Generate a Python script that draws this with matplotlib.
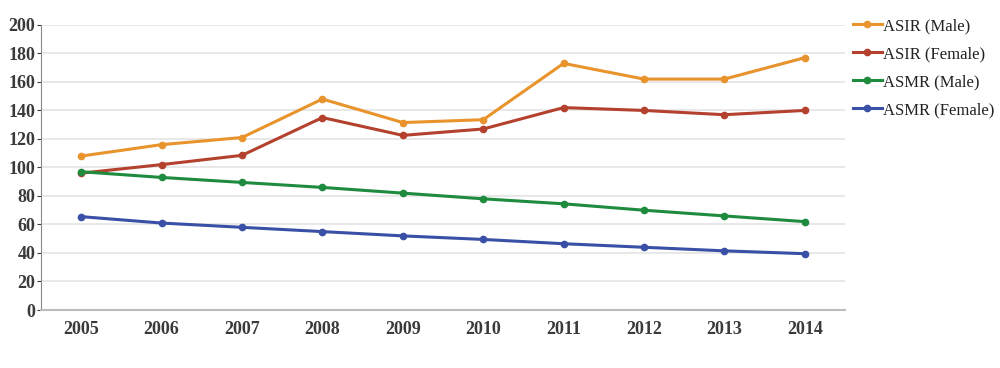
import numpy as np
from matplotlib import pyplot as plt

years = ['2005', '2006', '2007', '2008', '2009', '2010', '2011', '2012', '2013', '2014']
asir_male = [108, 116, 121, 148, 131.5, 133.5, 173, 162, 162, 177]
asir_female = [96, 102, 108.5, 135, 122.5, 127, 142, 140, 137, 140]
asmr_male = [97, 93, 89.5, 86, 82, 78, 74.5, 70, 66, 62]
asmr_female = [65.5, 61, 58, 55, 52, 49.5, 46.5, 44, 41.5, 39.5]

plt.rcParams['font.family'] = ['Liberation Serif', 'DejaVu Serif']

fig = plt.figure(figsize=(10, 3.68), dpi=100)
ax = fig.add_axes([0.041, 0.1576, 0.804, 0.7747])

x = np.arange(len(years))
series = [
    (asir_male, 'ASIR (Male)', '#E8932C'),
    (asir_female, 'ASIR (Female)', '#B4412D'),
    (asmr_male, 'ASMR (Male)', '#1E8B3E'),
    (asmr_female, 'ASMR (Female)', '#3A50A6'),
]
for vals, label, color in series:
    ax.plot(x, vals, color=color, lw=2.2, marker='o', ms=4.5, label=label, zorder=3)

ax.set_xlim(-0.5, 9.5)
ax.set_ylim(0, 200)
ax.set_yticks(range(0, 201, 20))
ax.set_xticks(x)
ax.set_xticklabels(years)
ax.yaxis.grid(True, color='#e4e4e4', lw=1.2)
ax.set_axisbelow(True)
for s in ['top', 'right']:
    ax.spines[s].set_visible(False)
ax.spines['left'].set_color('#888888')
ax.spines['bottom'].set_color('#bbbbbb')
ax.spines['bottom'].set_linewidth(1.5)
ax.tick_params(axis='x', length=0, pad=8, labelsize=13, colors='#3a3a3a')
ax.tick_params(axis='y', length=3, pad=1, labelsize=13, colors='#3a3a3a')
for t in ax.get_xticklabels() + ax.get_yticklabels():
    t.set_fontweight('bold')

leg = ax.legend(loc='upper left', bbox_to_anchor=(0.995, 1.065), frameon=False,
                borderaxespad=0.3, handlelength=1.75, handletextpad=0.08,
                labelspacing=0.72, prop={'size': 12})
for t in leg.get_texts():
    t.set_color('#222222')

fig.savefig('out.png')
